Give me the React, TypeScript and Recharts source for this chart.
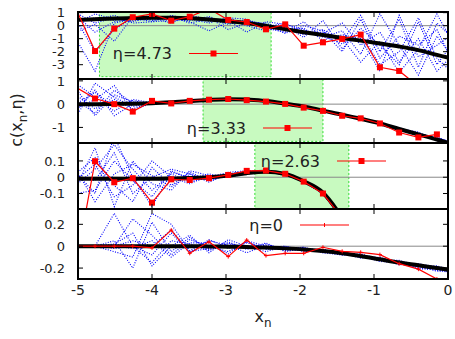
import React from "react";
import { ComposedChart, Line, XAxis, YAxis, ReferenceArea, ReferenceLine } from "recharts";

const W = 455;
const H = 339;
const LEFT = 78;
const RIGHT = 448;
const FONT = "DejaVu Sans, sans-serif";
const TXT = "#222";

// x_n grid shared by all panels
const xn = [-5.03, -4.77, -4.51, -4.26, -4.0, -3.74, -3.49, -3.23, -2.97, -2.72, -2.46, -2.2, -1.95, -1.69, -1.43, -1.18, -0.92, -0.66, -0.4, -0.15, 0.11];
const xTicks = [-5, -4, -3, -2, -1, 0];

// eta = 4.73
const red1 = [1.35, -1.95, -0.23, 0.65, 0.9, 0.38, 0.69, 1.3, 0.44, 0.28, -0.28, 0.1, -1.54, -1.28, -1.02, -0.69, -3.2, -3.48, -4.66, -5.5, null];
const black1 = [0.44, 0.5, 0.55, 0.58, 0.6, 0.6, 0.57, 0.48, 0.34, 0.2, -0.02, -0.27, -0.5, -0.72, -0.95, -1.15, -1.37, -1.6, -1.88, -2.25, -2.6];
const blue1 = [
  [0.8, -0.5, 0.3, 0.5, 0.6, 0.5, 0.7, 0.4, 0.5, 0.2, 0.1, -0.2, -0.4, -0.6, 0.2, -1.5, -0.5, -2.8, -1.0, -3.5, -2.0],
  [0.3, 0.6, 0.4, 0.7, 0.4, 0.6, 0.3, -0.4, 0.3, 0.4, 0.0, -0.1, -0.7, -0.3, -1.2, 0.8, -2.0, 0.5, -3.2, 0.2, -1.2],
  [-1.0, -3.5, 0.2, 0.5, 0.8, 0.4, 0.5, 0.6, -0.3, 0.2, -0.2, -0.5, 0.3, -0.9, -0.4, -2.2, 0.9, -1.5, -3.8, -0.8, -2.8],
  [1.0, 0.2, 0.6, 0.4, 0.5, 0.7, 0.2, 0.5, 0.4, -0.5, 0.3, 0.1, -0.3, -0.8, -1.4, -0.6, -3.0, -2.0, 0.6, -2.5, -3.9],
  [0.5, -2.0, -0.3, 0.6, 0.3, 0.4, 0.6, 0.3, 0.6, 0.5, -0.1, 0.2, -0.6, -0.5, -1.0, -2.8, -1.2, -3.6, -1.8, 0.9, -1.8],
  [0.2, 0.9, 0.5, 0.3, 0.7, 0.5, 0.4, 0.7, 0.2, 0.3, 0.2, -0.3, -0.2, -1.1, -0.7, -1.0, -3.5, 0.8, -2.4, -1.5, -0.5],
  [0.6, 0.4, 0.8, 0.2, 0.3, 0.8, 0.5, 0.2, 0.6, 0.0, -0.4, 0.0, -0.9, 0.4, -1.8, -0.2, -1.5, -3.0, 0.3, -3.0, -1.0],
  [-0.5, 0.1, -1.2, 0.7, 0.6, 0.2, 0.8, 0.5, 0.1, 0.4, 0.1, -0.6, 0.0, -0.4, -2.0, 0.5, -2.5, -0.8, -1.5, -0.3, -3.3],
];

// eta = 3.33
const red2 = [0.73, 0.24, 0.0, -0.32, 0.14, 0.03, 0.14, 0.19, 0.22, 0.17, 0.11, 0.01, -0.15, -0.29, -0.5, -0.61, -0.83, -1.22, -1.43, -1.3, null];
const black2 = [0.0, 0.0, 0.01, 0.02, 0.04, 0.08, 0.13, 0.18, 0.21, 0.2, 0.13, 0.02, -0.1, -0.28, -0.45, -0.63, -0.83, -1.07, -1.3, -1.52, -1.78];
const blue2 = [
  [-0.6, 0.9, 0.3, -0.1, 0.05, 0.1, 0.12, 0.18, 0.2, 0.2, 0.1, 0.02, -0.1, -0.28, -0.46, -0.62, -0.84, -1.08, -1.3, -1.5, -1.75],
  [0.2, -0.4, 0.6, 0.05, 0.02, 0.08, 0.14, 0.16, 0.21, 0.18, 0.13, 0.03, -0.12, -0.3, -0.44, -0.6, -0.8, -1.02, -1.25, -1.45, -1.7],
  [0.9, 0.3, -0.3, 0.2, 0.06, 0.06, 0.1, 0.17, 0.19, 0.2, 0.11, 0.0, -0.09, -0.27, -0.47, -0.65, -0.83, -1.1, -1.33, -1.4, -1.78],
  [-0.3, 0.6, -0.5, 0.0, 0.03, 0.1, 0.12, 0.15, 0.22, 0.19, 0.14, 0.04, -0.11, -0.29, -0.45, -0.61, -0.86, -1.06, -1.28, -1.56, -1.65],
  [0.4, -0.2, 0.2, -0.2, 0.08, 0.07, 0.13, 0.18, 0.2, 0.21, 0.12, 0.01, -0.1, -0.3, -0.44, -0.64, -0.81, -1.04, -1.35, -1.48, -1.8],
  [0.0, 0.5, -0.1, 0.15, 0.0, 0.09, 0.11, 0.16, 0.19, 0.19, 0.12, 0.03, -0.1, -0.28, -0.46, -0.62, -0.82, -1.07, -1.27, -1.52, -1.7],
  [0.7, -0.5, 0.4, 0.1, 0.02, 0.06, 0.14, 0.17, 0.2, 0.19, 0.12, 0.02, -0.1, -0.27, -0.45, -0.63, -0.8, -1.05, -1.2, -1.58, -1.72],
  [-0.2, 0.2, 0.8, -0.3, 0.07, 0.09, 0.12, 0.17, 0.21, 0.2, 0.13, 0.01, -0.11, -0.29, -0.46, -0.62, -0.85, -1.09, -1.36, -1.46, -1.68],
];

// eta = 2.63
const red3 = [-0.55, 0.098, -0.031, -0.006, -0.156, -0.013, -0.017, -0.006, 0.014, 0.039, 0.041, 0.021, -0.027, -0.1, -0.25, -0.45, null, null, null, null, null];
const black3 = [-0.01, -0.01, -0.01, -0.01, -0.01, -0.008, -0.005, 0.0, 0.01, 0.025, 0.033, 0.02, -0.025, -0.095, -0.25, -0.45, -0.7, -1.0, -1.3, -1.6, -1.9];
const blue3 = [
  [-0.05, 0.05, 0.2, 0.05, -0.08, 0.02, -0.03, 0.0, 0.03, 0.04, 0.04, 0.02, -0.03, -0.1, -0.26, -0.46, -0.72, -1.0, -1.3, -1.6, -1.9],
  [0.02, 0.12, -0.05, -0.15, 0.06, -0.05, 0.03, -0.02, 0.01, 0.03, 0.03, 0.015, -0.02, -0.09, -0.24, -0.44, -0.69, -0.98, -1.28, -1.58, -1.88],
  [-0.1, -0.08, 0.1, -0.02, -0.12, 0.04, -0.01, 0.02, 0.0, 0.02, 0.035, 0.025, -0.025, -0.1, -0.25, -0.45, -0.7, -1.0, -1.3, -1.6, -1.9],
  [0.05, -0.15, 0.02, 0.08, 0.01, -0.06, 0.02, -0.03, 0.02, 0.03, 0.03, 0.02, -0.03, -0.095, -0.26, -0.46, -0.71, -1.01, -1.31, -1.61, -1.91],
  [-0.02, 0.08, -0.12, -0.05, 0.1, 0.0, -0.04, 0.01, 0.0, 0.025, 0.04, 0.02, -0.02, -0.09, -0.25, -0.45, -0.7, -1.0, -1.3, -1.6, -1.9],
  [0.0, -0.02, 0.15, -0.1, 0.0, 0.05, 0.02, -0.02, 0.02, 0.035, 0.03, 0.02, -0.028, -0.1, -0.25, -0.44, -0.7, -0.99, -1.29, -1.59, -1.89],
  [0.03, -0.1, 0.25, 0.0, -0.18, 0.03, 0.0, -0.01, 0.015, 0.028, 0.032, 0.02, -0.026, -0.097, -0.25, -0.45, -0.7, -1.0, -1.3, -1.6, -1.9],
  [-0.06, 0.18, -0.18, 0.1, -0.04, -0.08, 0.04, 0.01, 0.0, 0.03, 0.036, 0.018, -0.024, -0.093, -0.25, -0.45, -0.7, -1.0, -1.3, -1.6, -1.9],
];

// eta = 0
const red4 = [0, 0, 0, 0, -0.016, 0.147, -0.065, 0.04, -0.095, 0.056, -0.086, -0.065, -0.065, -0.01, -0.047, -0.056, -0.077, -0.16, -0.21, -0.3, null];
const black4 = [0, 0, 0, 0, 0, 0, 0, -0.002, -0.005, -0.008, -0.012, -0.02, -0.03, -0.045, -0.065, -0.09, -0.12, -0.15, -0.175, -0.2, -0.225];
const blue4 = [
  [0, 0, 0.3, 0.0, -0.15, 0.05, 0.02, -0.04, 0.03, -0.02, 0.02, -0.03, -0.04, -0.05, -0.08, -0.07, -0.12, -0.14, -0.2, -0.22, -0.25],
  [0, 0, 0.0, 0.25, 0.1, -0.08, 0.06, 0.0, -0.05, 0.04, -0.03, -0.01, -0.02, -0.06, -0.05, -0.1, -0.11, -0.17, -0.16, -0.19, -0.22],
  [0, 0, -0.05, -0.1, 0.3, 0.2, -0.04, 0.05, 0.01, -0.06, 0.01, -0.04, -0.03, -0.03, -0.07, -0.08, -0.13, -0.13, -0.18, -0.21, -0.24],
  [0, 0, 0.02, 0.12, -0.18, 0.0, 0.1, -0.06, 0.06, 0.0, -0.05, 0.0, -0.05, -0.04, -0.06, -0.11, -0.1, -0.16, -0.19, -0.18, -0.23],
  [0, 0, 0.0, -0.02, 0.05, -0.1, 0.03, 0.03, -0.07, 0.05, 0.0, -0.02, -0.01, -0.06, -0.08, -0.09, -0.14, -0.15, -0.17, -0.23, -0.21],
  [0, 0, 0.0, 0.05, 0.0, 0.15, -0.05, -0.02, 0.04, -0.03, 0.03, -0.05, -0.02, -0.04, -0.07, -0.1, -0.12, -0.14, -0.21, -0.2, -0.26],
  [0, 0, 0.05, -0.2, 0.22, -0.05, 0.08, -0.03, 0.02, 0.0, -0.02, -0.03, -0.01, -0.05, -0.06, -0.08, -0.11, -0.16, -0.17, -0.21, -0.24],
  [0, 0, -0.02, 0.0, -0.08, 0.12, -0.06, 0.06, -0.02, 0.03, -0.01, 0.0, -0.04, -0.03, -0.07, -0.09, -0.13, -0.14, -0.19, -0.2, -0.22],
];

const panels = [
  { eta: "4.73", red: red1, black: black1, blue: blue1, top: 12, bottom: 79, domain: [-4.1, 1.05], ticks: [1, 0, -1, -2, -3], box: [-4.71, -2.39, -3.92, 1.05], legX: 189, legY: 53.5, square: true },
  { eta: "3.33", red: red2, black: black2, blue: blue2, top: 79, bottom: 143, domain: [-1.67, 1.08], ticks: [1, 0, -1], box: [-3.31, -1.69, -1.6, 1.08], legX: 263, legY: 128, square: true },
  { eta: "2.63", red: red3, black: black3, blue: blue3, top: 143, bottom: 209, domain: [-0.195, 0.21], ticks: [0.1, 0, -0.1], box: [-2.61, -1.34, -0.195, 0.21], legX: 337, legY: 161, square: true },
  { eta: "0", red: red4, black: black4, blue: blue4, top: 209, bottom: 279, domain: [-0.3, 0.34], ticks: [0.2, 0, -0.2], box: null, legX: 300, legY: 225, square: false },
];

function redDot(square: boolean) {
  return (props: any) => {
    const { cx, cy, index } = props;
    if (cx == null || cy == null) return <g key={`d${index}`} />;
    if (square) return <rect key={`d${index}`} x={cx - 3} y={cy - 3} width={6} height={6} fill="#f00" />;
    return (
      <g key={`d${index}`} stroke="#f00" strokeWidth={1}>
        <line x1={cx - 2} x2={cx + 2} y1={cy} y2={cy} />
        <line x1={cx} x2={cx} y1={cy - 2} y2={cy + 2} />
      </g>
    );
  };
}

function PanelChart({ p, last }: { p: any; last: boolean }) {
  const rows = xn.map((x, i) => {
    const r: any = { x, red: p.red[i], black: p.black[i] };
    p.blue.forEach((b: number[], j: number) => (r[`b${j}`] = b[i]));
    return r;
  });

  const xTick = (t: any) => (
    <g key={`xt${t.index}`}>
      <line x1={t.x} x2={t.x} y1={p.bottom} y2={p.bottom - 5} stroke="#000" />
      <line x1={t.x} x2={t.x} y1={p.top} y2={p.top + 5} stroke="#000" />
      {last && (
        <text x={t.x} y={p.bottom + 16} textAnchor="middle" fontFamily={FONT} fontSize={14} fill={TXT}>
          {t.payload.value}
        </text>
      )}
    </g>
  );

  const yTick = (t: any) => (
    <g key={`yt${t.index}`}>
      <line x1={LEFT} x2={LEFT + 5} y1={t.y} y2={t.y} stroke="#000" />
      <line x1={RIGHT - 5} x2={RIGHT} y1={t.y} y2={t.y} stroke="#000" />
      <text x={LEFT - 13} y={t.y} dy="0.36em" textAnchor="end" fontFamily={FONT} fontSize={13} fill={TXT}>
        {t.payload.value}
      </text>
    </g>
  );

  return (
    <div style={{ position: "absolute", left: 0, top: 0 }}>
      <ComposedChart
        width={W}
        height={H}
        data={rows}
        margin={{ top: p.top, bottom: H - p.bottom - 1, left: 0, right: W - RIGHT }}
      >
        <XAxis type="number" dataKey="x" domain={[-5, 0]} ticks={xTicks} interval={0} allowDataOverflow height={1} axisLine={false} tickLine={false} tick={xTick} />
        <YAxis type="number" domain={p.domain} ticks={p.ticks} interval={0} allowDataOverflow width={LEFT} axisLine={false} tickLine={false} tick={yTick} />
        {p.box && (
          <ReferenceArea x1={p.box[0]} x2={p.box[1]} y1={p.box[2]} y2={p.box[3]} fill="#c8fac0" fillOpacity={1} stroke="#33dd33" strokeDasharray="2 2" ifOverflow="hidden" />
        )}
        <ReferenceLine y={0} stroke="#888" strokeWidth={1} />
        {p.blue.map((_: number[], j: number) => (
          <Line key={`b${j}`} dataKey={`b${j}`} type="linear" stroke="#0000ff" strokeWidth={1.1} strokeDasharray="1 1.5" dot={false} isAnimationActive={false} />
        ))}
        <Line dataKey="black" type="monotone" stroke="#000" strokeWidth={4} dot={false} isAnimationActive={false} />
        <Line dataKey="red" type="linear" stroke="#f00" strokeWidth={1.2} dot={redDot(p.square)} isAnimationActive={false} />
      </ComposedChart>
    </div>
  );
}

function Legend({ p }: { p: any }) {
  return (
    <g>
      <text x={p.legX - 17} y={p.legY} dy="0.36em" textAnchor="end" fontFamily={FONT} fontSize={16} fill={TXT}>
        η={p.eta}
      </text>
      <line x1={p.legX} x2={p.legX + 49} y1={p.legY} y2={p.legY} stroke="#f00" strokeWidth={1.2} />
      {p.square ? (
        <rect x={p.legX + 21.5} y={p.legY - 3} width={6} height={6} fill="#f00" />
      ) : (
        <line x1={p.legX + 24.5} x2={p.legX + 24.5} y1={p.legY - 2} y2={p.legY + 2} stroke="#f00" />
      )}
    </g>
  );
}

export default function App() {
  return (
    <div style={{ position: "absolute", left: 0, top: 0, width: W, height: H, background: "#fff" }}>
      {panels.map((p, i) => (
        <PanelChart key={i} p={p} last={i === panels.length - 1} />
      ))}
      <svg width={W} height={H} style={{ position: "absolute", left: 0, top: 0, pointerEvents: "none" }}>
        {panels.map((p, i) => (
          <g key={i}>
            <rect x={LEFT} y={p.top} width={RIGHT - LEFT} height={p.bottom - p.top} fill="none" stroke="#000" strokeWidth={2} />
            <Legend p={p} />
          </g>
        ))}
        <text x={263} y={322} textAnchor="middle" fontFamily={FONT} fontSize={16} fill={TXT}>
          x<tspan fontSize={12} dy={5}>n</tspan>
        </text>
        <text transform="translate(22,120) rotate(-90)" textAnchor="middle" fontFamily={FONT} fontSize={16} fill={TXT}>
          c(x<tspan fontSize={12} dy={5}>n</tspan>
          <tspan dy={-5}>,η)</tspan>
        </text>
      </svg>
    </div>
  );
}
